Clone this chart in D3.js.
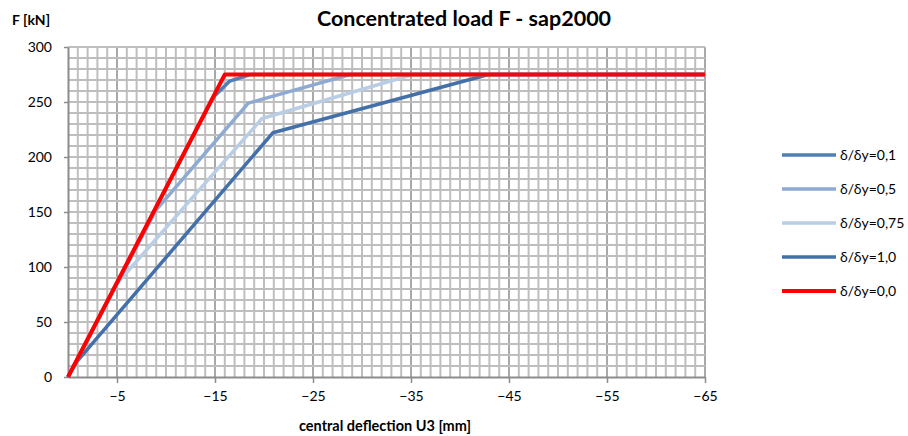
<!DOCTYPE html>
<html>
<head>
<meta charset="utf-8">
<script src="https://cdn.jsdelivr.net/npm/d3@7"></script>
<style>
    body { margin: 0; background: #fff; }
    svg { display: block; font-family: Lato, "Open Sans", sans-serif; }
</style>
</head>
<body>
<svg id="chart" width="908" height="436"></svg>
<script>
"use strict";

// series names (legend order)
const seriesNames = ["δ/δy=0,1", "δ/δy=0,5", "δ/δy=0,75", "δ/δy=1,0", "δ/δy=0,0"];
const seriesColors = ["#4f7fbb", "#8eaad3", "#b9cde5", "#4470a9", "#ff0000"];

// deflection [mm] / load [kN]
const defl01 = [0, -14.8, -16.5, -18.6, -65];
const load01 = [0, 254, 269, 275, 275];
const defl05 = [0, -9.0, -18.4, -28.8, -65];
const load05 = [0, 152, 249, 275, 275];
const defl075 = [0, -5.1, -19.8, -35.2, -65];
const load075 = [0, 86, 235, 275, 275];
const defl10 = [0, -0.9, -20.9, -42.9, -65];
const load10 = [0, 14, 222, 275, 275];
const defl00 = [0, -16, -65];
const load00 = [0, 275, 275];

const xTicks = [-5, -15, -25, -35, -45, -55, -65];
const yTicks = [0, 50, 100, 150, 200, 250, 300];

const allDefl = [defl01, defl05, defl075, defl10, defl00];
const allLoad = [load01, load05, load075, load10, load00];

function drawChart() {
    let svg = d3.select('#chart');
    let x = d3.scaleLinear().domain([0, -65]).range([68, 705]);
    let y = d3.scaleLinear().domain([0, 300]).range([377, 47]);

    // minor grid
    let grid = svg.append('g');
    grid.selectAll('line.vx')
        .data(d3.range(-1, -66, -1))
        .join('line')
        .attr('x1', d => x(d)).attr('x2', d => x(d))
        .attr('y1', y(300)).attr('y2', y(0))
        .attr('stroke', d => (d + 5) % 10 === 0 ? '#8c8c8c' : '#bebebe')
        .attr('stroke-width', d => (d + 5) % 10 === 0 ? 1.5 : 2);
    grid.selectAll('line.hy')
        .data(d3.range(10, 301, 10))
        .join('line')
        .attr('x1', x(0)).attr('x2', x(-65))
        .attr('y1', d => y(d)).attr('y2', d => y(d))
        .attr('stroke', '#bebebe')
        .attr('stroke-width', 2);

    // axes
    let xAxis = svg.append('g')
        .attr('transform', `translate(0,${y(0)})`)
        .call(d3.axisBottom(x).tickValues(xTicks).tickSize(6).tickSizeOuter(0).tickFormat(d3.format('d')));
    let yAxis = svg.append('g')
        .attr('transform', `translate(${x(0)},0)`)
        .call(d3.axisLeft(y).tickValues(yTicks).tickSize(4).tickSizeOuter(0).tickPadding(12));
    [xAxis, yAxis].forEach(a => {
        a.select('.domain').attr('stroke', '#8c8c8c').attr('stroke-width', 2);
        a.selectAll('.tick line').attr('stroke', '#8c8c8c').attr('stroke-width', 1.5);
        a.selectAll('text').attr('font-size', 14).attr('fill', '#000')
            .attr('font-family', 'Lato, "Open Sans", sans-serif');
    });
    xAxis.selectAll('text').attr('dy', '1.05em');

    // lines (red last so it sits on top)
    let line = d3.line().x(d => x(d[0])).y(d => y(d[1]));
    let order = [3, 2, 1, 0, 4];
    order.forEach(i => {
        let pts = allDefl[i].map((d, j) => [d, allLoad[i][j]]);
        svg.append('path')
            .datum(pts)
            .attr('d', line)
            .attr('fill', 'none')
            .attr('stroke', seriesColors[i])
            .attr('stroke-width', i === 4 ? 4 : 3.5)
            .attr('stroke-linejoin', 'round');
    });

    // legend
    let legend = svg.append('g');
    seriesNames.forEach((name, i) => {
        let ly = 155 + i * 34;
        legend.append('line')
            .attr('x1', 782).attr('x2', 836)
            .attr('y1', ly).attr('y2', ly)
            .attr('stroke', seriesColors[i])
            .attr('stroke-width', i === 4 ? 4 : 3.5);
        legend.append('text')
            .attr('x', 840).attr('y', ly + 5)
            .attr('font-size', 14)
            .text(name);
    });

    // titles
    svg.append('text')
        .attr('x', 464).attr('y', 26)
        .attr('text-anchor', 'middle')
        .attr('font-size', 21.5).attr('font-weight', 'bold')
        .text('Concentrated load F - sap2000');
    svg.append('text')
        .attr('x', 12).attr('y', 25)
        .attr('font-size', 14).attr('font-weight', 'bold')
        .text('F [kN]');
    svg.append('text')
        .attr('x', 385).attr('y', 431)
        .attr('text-anchor', 'middle')
        .attr('font-size', 14.5).attr('font-weight', 'bold')
        .text('central deflection U3 [mm]');
}

drawChart();
</script>
</body>
</html>
